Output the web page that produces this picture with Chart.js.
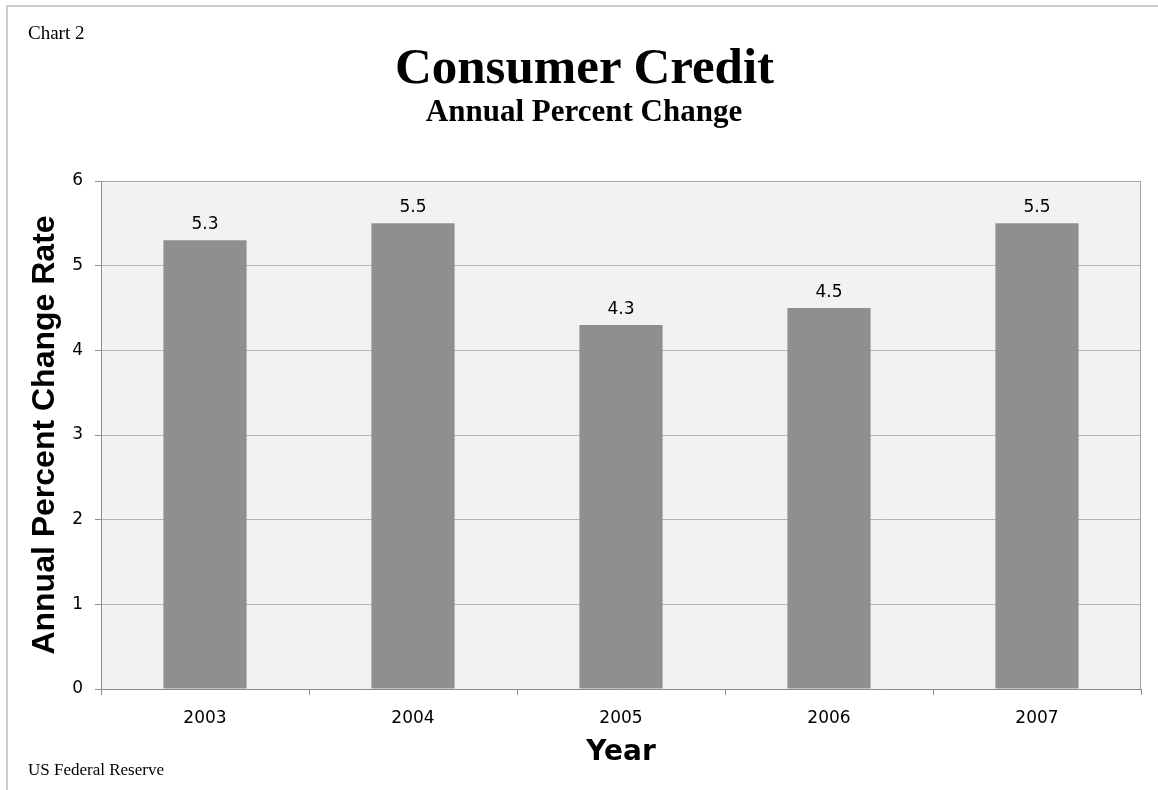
<!DOCTYPE html>
<html>
<head>
<meta charset="utf-8">
<script src="https://cdn.jsdelivr.net/npm/chart.js@4"></script>
<style>
  html, body { margin: 0; padding: 0; background: #fff; }
  #wrap { position: relative; width: 1158px; height: 790px; overflow: hidden; }
  #frame { position: absolute; left: 6px; top: 5px; right: 0; bottom: 0;
           border-top: 2px solid #cccccc; border-left: 2px solid #cccccc; }
  canvas { position: absolute; left: 0; top: 0; }
  .serif { position: absolute; font-family: "Liberation Serif", serif; color: #000; white-space: nowrap; }
  #note { left: 28px; top: 22px; font-size: 19px; }
  #source { left: 28px; top: 760px; font-size: 17px; }
  #title { left: 0; width: 1169px; text-align: center; top: 36px; font-size: 51px; font-weight: bold; line-height: 60px; }
  #subtitle { left: 0; width: 1168px; text-align: center; top: 93px; font-size: 31px; font-weight: bold; line-height: 36px; }
</style>
</head>
<body>
<div id="wrap">
  <div id="frame"></div>
  <canvas id="chart" width="1158" height="790"></canvas>
  <div id="note" class="serif">Chart 2</div>
  <div id="title" class="serif">Consumer Credit</div>
  <div id="subtitle" class="serif">Annual Percent Change</div>
  <div id="source" class="serif">US Federal Reserve</div>
</div>
<script>
  // chart data
  const years = ['2003', '2004', '2005', '2006', '2007'];
  const changeRate = [5.3, 5.5, 4.3, 4.5, 5.5];
  const yTicks = [0, 1, 2, 3, 4, 5, 6];

  Chart.defaults.font.family = 'DejaVu Sans';
  Chart.defaults.color = '#000';

  // grey plot background + top/right border
  const plotArea = {
    id: 'plotArea',
    beforeDraw(chart) {
      const a = chart.chartArea, ctx = chart.ctx;
      ctx.save();
      ctx.fillStyle = '#f2f2f2';
      ctx.fillRect(a.left, a.top, a.right - a.left, a.bottom - a.top);
      ctx.restore();
    },
    afterDraw(chart) {
      const a = chart.chartArea, ctx = chart.ctx;
      ctx.save();
      ctx.strokeStyle = '#a6a6a6';
      ctx.lineWidth = 1;
      ctx.beginPath();
      ctx.moveTo(a.left, a.top + 0.5);
      ctx.lineTo(a.right - 0.5, a.top + 0.5);
      ctx.lineTo(a.right - 0.5, a.bottom);
      ctx.stroke();
      ctx.restore();
    }
  };

  // value labels on top of the bars
  const barLabels = {
    id: 'barLabels',
    afterDatasetsDraw(chart) {
      const ctx = chart.ctx;
      const meta = chart.getDatasetMeta(0);
      ctx.save();
      ctx.font = '17px "DejaVu Sans"';
      ctx.fillStyle = '#000';
      ctx.textAlign = 'center';
      ctx.textBaseline = 'alphabetic';
      meta.data.forEach((bar, i) => {
        ctx.fillText(changeRate[i].toFixed(1), bar.x, bar.y - 11);
      });
      ctx.restore();
    }
  };

  const ctx = document.getElementById('chart').getContext('2d');
  const chart = new Chart(ctx, {
    type: 'bar',
    data: {
      labels: years,
      datasets: [{
        data: changeRate,
        backgroundColor: '#8f8f8f',
        borderWidth: 0,
        barPercentage: 0.4,
        categoryPercentage: 1.0
      }]
    },
    options: {
      responsive: false,
      animation: false,
      layout: { padding: { left: 26, top: 181, right: 17, bottom: 20 } },
      plugins: {
        legend: { display: false },
        tooltip: { enabled: false }
      },
      scales: {
        x: {
          offset: true,
          afterFit: (scale) => { scale.height = 81; },
          grid: { offset: true, drawOnChartArea: false, tickLength: 6, tickColor: '#8c8c8c' },
          border: { color: '#8c8c8c' },
          ticks: { font: { size: 17 }, padding: 13 },
          title: {
            display: true,
            text: 'Year',
            font: { size: 28, weight: 'bold' },
            padding: { top: 0, bottom: 0 }
          }
        },
        y: {
          min: 0,
          max: 6,
          afterFit: (scale) => { scale.width = 75; },
          afterBuildTicks: (scale) => { scale.ticks = yTicks.map(v => ({ value: v })); },
          grid: { color: '#b4b4b4', tickLength: 6, tickColor: '#8c8c8c' },
          border: { color: '#8c8c8c' },
          ticks: { font: { size: 17 }, padding: 12 },
          title: {
            display: true,
            text: 'Annual Percent Change Rate',
            font: { family: 'Liberation Sans', size: 32, weight: 'bold' },
            padding: { top: 0, bottom: 0 }
          }
        }
      }
    },
    plugins: [plotArea, barLabels]
  });
</script>
</body>
</html>
